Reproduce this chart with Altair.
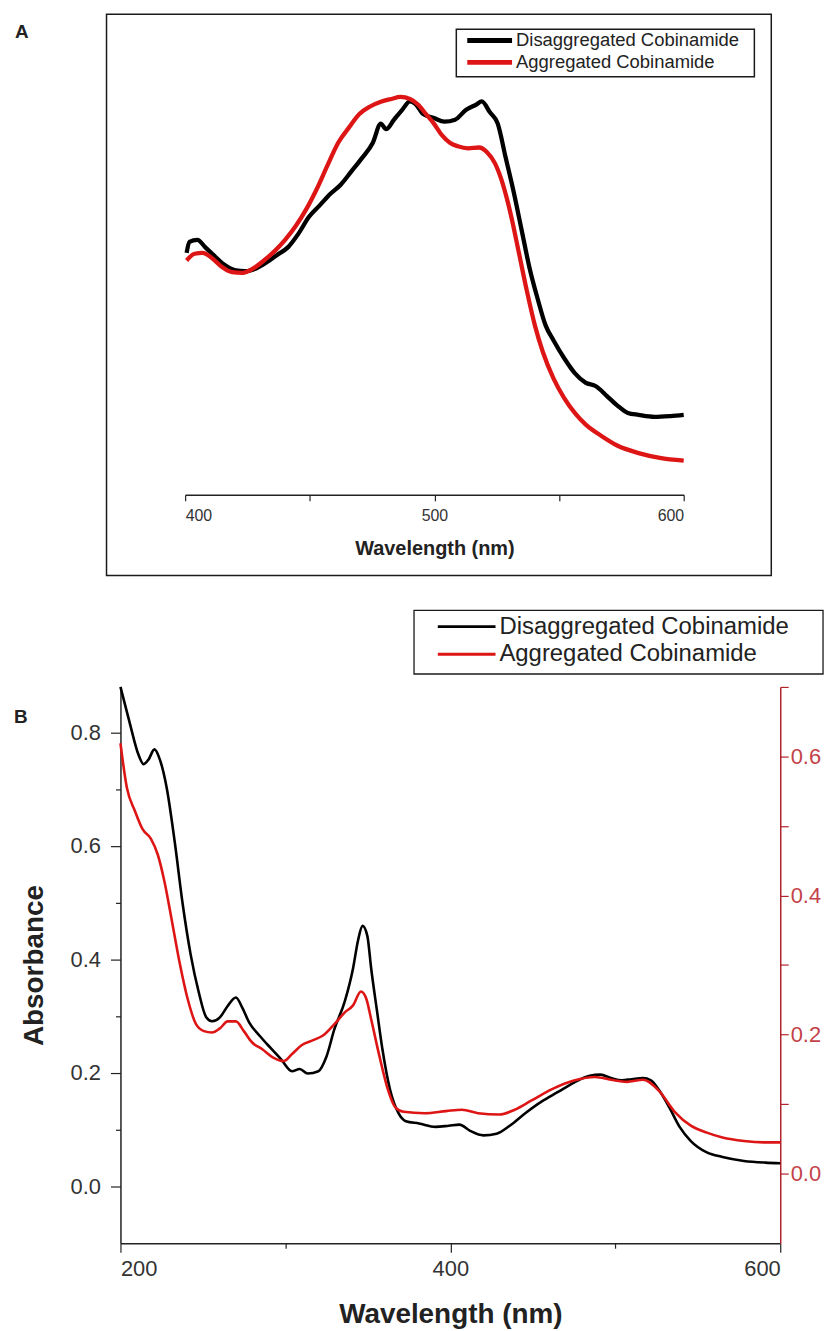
import altair as alt
import pandas as pd

FONT = "Liberation Sans"
RED = "#dd1515"
AXIS_RED = "#b3232c"
LABEL_RED = "#c4424a"
SERIES = ["Disaggregated Cobinamide", "Aggregated Cobinamide"]
LEGEND_LINE = "M-2.5,0H2.5"

# ---------------- Panel A (normalised, no y axis) ----------------
a_dis_wl = [400.6, 401.7, 404.9, 408.1, 411.3, 415.6, 419.8, 424.1, 428.4, 432.6, 436.9, 441.2,
            445.4, 449.7, 453.9, 458.2, 462.5, 466.7, 471.0, 475.3, 478.5, 480.6, 483.8, 487.0,
            490.2, 492.3, 495.5, 499.8, 504.0, 508.3, 512.6, 516.8, 519.0, 522.2, 525.4, 528.6,
            531.8, 535.0, 538.2, 541.4, 544.6, 547.8, 552.0, 556.3, 560.6, 564.8, 569.1, 573.3,
            577.6, 581.9, 588.3, 594.7, 600.0]
a_dis_val = [0.608, 0.636, 0.641, 0.622, 0.603, 0.579, 0.565, 0.562, 0.569, 0.584, 0.603, 0.622,
             0.656, 0.699, 0.727, 0.756, 0.780, 0.813, 0.847, 0.885, 0.933, 0.919, 0.943, 0.967,
             0.989, 0.983, 0.957, 0.947, 0.938, 0.943, 0.967, 0.981, 0.989, 0.962, 0.933, 0.847,
             0.761, 0.665, 0.569, 0.493, 0.426, 0.388, 0.344, 0.306, 0.282, 0.273, 0.249, 0.225,
             0.206, 0.201, 0.196, 0.198, 0.201]
a_agg_wl = [400.6, 403.8, 407.0, 410.2, 414.5, 418.8, 423.0, 427.3, 431.6, 435.8, 440.1, 444.3,
            448.6, 452.9, 457.1, 461.4, 465.7, 469.9, 474.2, 478.5, 482.7, 486.4, 490.2, 493.4,
            496.6, 499.8, 503.0, 506.2, 509.4, 513.6, 517.9, 521.1, 524.3, 527.5, 530.7, 533.9,
            537.1, 540.3, 543.5, 547.8, 552.0, 556.3, 560.6, 567.0, 573.3, 581.9, 590.4, 600.0]
a_agg_val = [0.589, 0.606, 0.608, 0.598, 0.574, 0.560, 0.558, 0.569, 0.589, 0.612, 0.641, 0.675,
             0.718, 0.770, 0.828, 0.885, 0.923, 0.957, 0.976, 0.988, 0.995, 1.000, 0.995, 0.981,
             0.957, 0.933, 0.904, 0.885, 0.876, 0.871, 0.873, 0.861, 0.833, 0.780, 0.703, 0.608,
             0.512, 0.426, 0.359, 0.292, 0.244, 0.206, 0.177, 0.148, 0.124, 0.105, 0.093, 0.086]

# ---------------- Panel B (absorbance, dual axis) ----------------
b_dis_wl = [200.0, 205.5, 211.0, 214.0, 217.0, 220.6, 223.9, 228.0, 233.0, 237.7, 242.6, 247.4,
            252.0, 255.5, 260.3, 265.0, 270.0, 274.0, 278.0, 284.5, 291.0, 297.4, 304.0, 308.7,
            313.5, 320.0, 324.8, 329.7, 336.0, 341.0, 344.0, 346.8, 349.7, 352.0, 355.5, 358.7,
            363.5, 368.4, 373.0, 381.0, 391.0, 399.0, 405.5, 412.0, 420.0, 428.0, 436.0, 445.8,
            455.5, 465.0, 475.0, 484.5, 491.0, 497.4, 504.0, 510.0, 516.8, 521.6, 526.5, 533.0,
            539.0, 545.8, 555.5, 565.0, 578.0, 591.0, 600.0]
b_dis_abs = [0.880, 0.818, 0.760, 0.744, 0.752, 0.770, 0.752, 0.703, 0.605, 0.498, 0.408, 0.343,
             0.298, 0.291, 0.298, 0.318, 0.333, 0.314, 0.289, 0.265, 0.244, 0.224, 0.203, 0.207,
             0.199, 0.203, 0.228, 0.277, 0.326, 0.384, 0.433, 0.459, 0.441, 0.384, 0.310, 0.244,
             0.170, 0.130, 0.115, 0.111, 0.105, 0.107, 0.109, 0.098, 0.090, 0.093, 0.107, 0.130,
             0.150, 0.166, 0.183, 0.195, 0.197, 0.191, 0.187, 0.189, 0.191, 0.187, 0.170, 0.138,
             0.105, 0.080, 0.060, 0.052, 0.045, 0.042, 0.041]
b_agg_wl = [200.0, 203.9, 208.7, 213.5, 218.4, 222.6, 226.5, 231.3, 236.0, 241.0, 245.8, 250.6,
            255.5, 260.3, 265.0, 270.0, 274.8, 279.7, 286.0, 292.6, 299.0, 304.0, 310.0, 316.8,
            323.0, 329.7, 336.0, 341.0, 345.8, 349.0, 352.0, 357.0, 362.0, 366.8, 371.6, 384.5,
            397.4, 407.0, 416.8, 429.7, 439.0, 449.0, 462.0, 475.0, 487.7, 497.4, 507.0, 516.8,
            526.5, 536.0, 545.8, 555.5, 565.0, 578.0, 591.0, 600.0]
b_agg_abs = [0.619, 0.555, 0.522, 0.495, 0.482, 0.459, 0.422, 0.362, 0.302, 0.249, 0.215, 0.205,
             0.203, 0.209, 0.219, 0.219, 0.205, 0.189, 0.179, 0.167, 0.162, 0.172, 0.185, 0.192,
             0.199, 0.215, 0.232, 0.242, 0.262, 0.252, 0.222, 0.169, 0.122, 0.095, 0.089, 0.087,
             0.090, 0.092, 0.087, 0.085, 0.092, 0.105, 0.122, 0.134, 0.139, 0.135, 0.132, 0.135,
             0.119, 0.089, 0.069, 0.059, 0.052, 0.047, 0.045, 0.045]

a_ticks = [400, 450, 500, 550, 600]
b_x_ticks = [200, 300, 400, 500, 600]
b_left_ticks = [0.0, 0.1, 0.2, 0.3, 0.4, 0.5, 0.6, 0.7, 0.8]
b_right_ticks = [0.0, 0.1, 0.2, 0.3, 0.4, 0.5, 0.6, 0.7]


def frame(wl, val, series):
    return pd.DataFrame({"wl": wl, "val": val, "series": series})


dfA = pd.concat([frame(a_dis_wl, a_dis_val, SERIES[0]), frame(a_agg_wl, a_agg_val, SERIES[1])])
dfB_dis = frame(b_dis_wl, b_dis_abs, SERIES[0])
dfB_agg = frame(b_agg_wl, b_agg_abs, SERIES[1])

one = pd.DataFrame({"k": [0]})


def box(x1, x2, y1, y2, width):
    return alt.Chart(one).mark_rect(fillOpacity=0, stroke="#1a1a1a", strokeWidth=width).encode(
        x=alt.value(x1), x2=alt.value(x2), y=alt.value(y1), y2=alt.value(y2)
    )


# ---------------- Chart A ----------------
colorA = alt.Color(
    "series:N",
    scale=alt.Scale(domain=SERIES, range=["#000000", RED]),
    legend=alt.Legend(
        title=None, orient="none", legendX=339.5, legendY=14.9, padding=0,
        symbolType=LEGEND_LINE, symbolStrokeWidth=5, symbolSize=324, symbolOffset=20,
        labelFont=FONT, labelFontSize=18.5, labelColor="#222", labelOffset=15,
        labelLimit=500, rowPadding=0,
    ),
)

linesA = alt.Chart(dfA).mark_line(strokeWidth=4.3, interpolate="monotone").encode(
    x=alt.X(
        "wl:Q",
        scale=alt.Scale(domain=[400, 600], range=[65, 566], nice=False, zero=False),
        axis=alt.Axis(
            values=a_ticks, title="Wavelength (nm)",
            labelExpr="datum.value % 100 == 0 ? format(datum.value, 'd') : ''",
            labelFont=FONT, labelFontSize=16, labelColor="#333", labelPadding=7,
            tickSize=6, tickColor="#222", domainColor="#222", domainWidth=1.5, tickWidth=1.2,
            titleFont=FONT, titleFontSize=20, titleFontWeight="bold", titleColor="#222",
            titlePadding=15, grid=False,
        ),
    ),
    y=alt.Y("val:Q", scale=alt.Scale(domain=[0, 1.208], nice=False, zero=False), axis=None),
    color=colorA,
    order=alt.Order("wl:Q"),
)

frameA = box(-14, 654, 0, 564, 1.5)
legendBoxA = box(337.5, 637, 15, 62.8, 1.5)
labelA = alt.Chart(one).mark_text(font=FONT, fontSize=19, fontWeight="bold", color="#222").encode(
    x=alt.value(-99), y=alt.value(18), text=alt.value("A")
)

chartA = alt.layer(frameA, legendBoxA, linesA, labelA).properties(width=654, height=483)

# ---------------- Chart B ----------------
colorB = alt.Color(
    "series:N",
    scale=alt.Scale(domain=SERIES, range=["#000000", RED]),
    legend=alt.Legend(
        title=None, orient="none", legendX=301, legendY=-74.1, padding=0,
        symbolType=LEGEND_LINE, symbolStrokeWidth=3, symbolSize=538, symbolOffset=33.4,
        labelFont=FONT, labelFontSize=24, labelColor="#222", labelOffset=19.4,
        labelLimit=600, rowPadding=1.8,
    ),
)

xB = alt.X(
    "wl:Q",
    scale=alt.Scale(domain=[200, 600], nice=False, zero=False),
    axis=alt.Axis(
        values=b_x_ticks, title="Wavelength (nm)",
        labelExpr="datum.value % 200 == 0 ? format(datum.value, 'd') : ''",
        labelFont=FONT, labelFontSize=22, labelColor="#333", labelPadding=6,
        tickSize={"condition": {"test": "datum.value % 200 == 0", "value": 9}, "value": 5},
        tickColor="#222", domainColor="#222", domainWidth=1.5, tickWidth=1.2,
        titleFont=FONT, titleFontSize=28, titleFontWeight="bold", titleColor="#222",
        titlePadding=22, grid=False,
    ),
)

blackB = alt.Chart(dfB_dis).mark_line(strokeWidth=2.6, interpolate="monotone").encode(
    x=xB,
    y=alt.Y(
        "val:Q",
        scale=alt.Scale(domain=[-0.1, 0.88], nice=False, zero=False),
        axis=alt.Axis(
            orient="left", values=b_left_ticks, title="Absorbance",
            labelExpr="round(datum.value * 10) % 2 == 0 ? format(datum.value, '.1f') : ''",
            labelFont=FONT, labelFontSize=22, labelColor="#333", labelPadding=10,
            tickSize={"condition": {"test": "round(datum.value * 10) % 2 == 0", "value": 10}, "value": 5},
            tickColor="#222", domainColor="#222", domainWidth=1.5, tickWidth=1.2,
            titleFont=FONT, titleFontSize=28, titleFontWeight="bold", titleColor="#222",
            titlePadding=22, grid=False,
        ),
    ),
    color=colorB,
    order=alt.Order("wl:Q"),
)

redB = alt.Chart(dfB_agg).mark_line(strokeWidth=2.6, interpolate="monotone").encode(
    x=xB,
    y=alt.Y(
        "val:Q",
        scale=alt.Scale(domain=[-0.1, 0.7], nice=False, zero=False),
        axis=alt.Axis(
            orient="right", values=b_right_ticks, title=None,
            labelExpr="round(datum.value * 10) % 2 == 0 ? format(datum.value, '.1f') : ''",
            labelFont=FONT, labelFontSize=22, labelColor=LABEL_RED, labelPadding=2,
            tickSize=8, tickColor=AXIS_RED, domainColor=AXIS_RED, domainWidth=1.5,
            tickWidth=1.2, grid=False,
        ),
    ),
    color=colorB,
    order=alt.Order("wl:Q"),
)

legendBoxB = box(295, 706, -77, -13, 1.3)
labelB = alt.Chart(one).mark_text(font=FONT, fontSize=19, fontWeight="bold", color="#222").encode(
    x=alt.value(-100), y=alt.value(30), text=alt.value("B")
)

chartB = (
    alt.layer(blackB, redB, legendBoxB, labelB)
    .resolve_scale(y="independent")
    .properties(width=663, height=559)
)

chart = (
    alt.vconcat(chartA, chartB, spacing=33)
    .resolve_scale(color="independent")
    .resolve_legend(color="independent")
    .properties(padding={"left": 6, "top": 2, "right": 5, "bottom": 5})
    .configure(font=FONT)
    .configure_view(stroke="transparent", strokeWidth=0)
)

chart.save("out.html", embed_options={"renderer": "svg", "actions": False})
